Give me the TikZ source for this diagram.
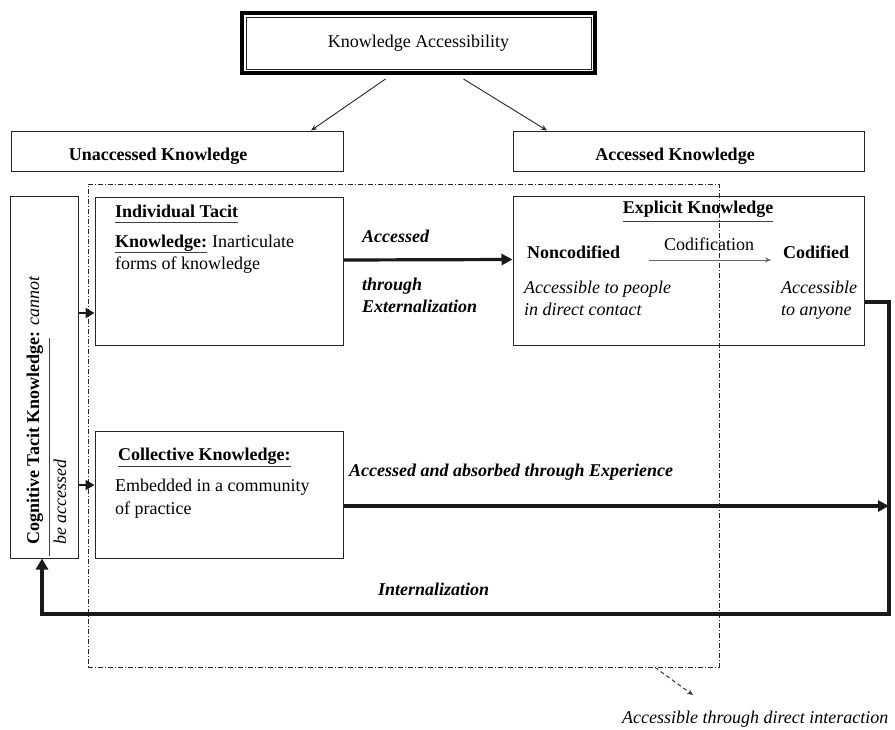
\documentclass[tikz,border=0pt]{standalone}
\usepackage{fontspec}
\setmainfont{Liberation Serif}
\usetikzlibrary{arrows.meta}
\begin{document}
\begin{tikzpicture}[x=1pt,y=-1pt,
  font=\fontsize{18}{22}\selectfont,
  box/.style={draw=black!85, line width=1pt, inner sep=0pt},
  txt/.style={inner sep=0pt, anchor=base west},
  ctr/.style={inner sep=0pt, anchor=base},
  uline/.style={draw=black!75, line width=1pt},
  thinarrow/.style={draw=black!85, line width=0.9pt, -{Stealth[length=6pt,width=5pt]}},
  codarrow/.style={draw=black!60, line width=1pt, -{Stealth[length=6pt,width=5pt]}},
  heavyarrow/.style={draw=black!90, line width=3.2pt, -{Triangle[length=11pt,width=11pt]}},
  heavyline/.style={draw=black!90, line width=4pt, line join=miter},
  smallarrow/.style={draw=black!90, line width=2.4pt, -{Triangle[length=9pt,width=10pt]}},
  frameline/.style={draw=black!85, line width=0.8pt, dash pattern=on 5pt off 2pt on 1pt off 2pt},
  noteline/.style={draw=black!80, line width=1pt, dash pattern=on 4pt off 3pt, -{Stealth[length=6pt,width=5pt]}}]
\useasboundingbox (0,0) rectangle (895,729);

% region of direct interaction
\node[frameline, inner sep=0pt, minimum width=631pt, minimum height=483pt] (frame) at (403.5,425.5) {};

% title box with double frame
\node[draw=black, line width=4pt, inner sep=0pt, minimum width=353pt, minimum height=60pt] (ka) at (418.5,43) {Knowledge Accessibility};
\draw[black!85, line width=1pt] ([shift={(6pt,-6pt)}]ka.north west) rectangle ([shift={(-6pt,6pt)}]ka.south east);

% second level
\node[box, minimum width=332pt, minimum height=40pt] (unacc) at (177,151) {};
\node[ctr] (unaccT) at (158,160) {\textbf{Unaccessed Knowledge}};
\node[box, minimum width=351pt, minimum height=40pt] (acc) at (688.5,151) {};
\node[ctr] (accT) at (675,160) {\textbf{Accessed Knowledge}};

\draw[thinarrow] ([xshift=-33pt,yshift=-4pt]ka.south) -- ([xshift=134pt]unacc.north);
\draw[thinarrow] ([xshift=45pt,yshift=-4pt]ka.south) -- ([xshift=-141.5pt]acc.north);

% cognitive tacit knowledge
\node[box, minimum width=68pt, minimum height=362pt] (cog) at (44.5,377) {};
\node[txt, rotate=90] (cogA) at (39,545) {\textbf{Cognitive Tacit Knowledge:} \textit{cannot}};
\node[txt, rotate=90] (cogB) at (66,545) {\textit{be accessed}};
\draw[uline] (49,338) -- (49,556);

% individual tacit knowledge
\node[box, minimum width=248pt, minimum height=148pt] (indiv) at (219,271) {};
\node[txt] (indA) at (115,217) {\textbf{Individual Tacit}};
\draw[uline] ([yshift=-5pt]indA.base west) -- ([yshift=-5pt]indA.base east);
\node[txt] (indB) at (115,247) {\textbf{Knowledge:}};
\draw[uline] ([yshift=-5pt]indB.base west) -- ([yshift=-5pt]indB.base east);
\node[txt] (indC) at ([xshift=4.5pt]indB.base east) {Inarticulate};
\node[txt] (indD) at (115,269) {forms of knowledge};

% explicit knowledge
\node[box, minimum width=351pt, minimum height=149pt] (expl) at (688.5,270.5) {};
\node[ctr] (explT) at (698,213) {\textbf{Explicit Knowledge}};
\draw[uline] ([yshift=-8pt]explT.base west) -- ([yshift=-8pt]explT.base east);
\node[txt] (nonc) at (527,258) {\textbf{Noncodified}};
\node[txt] (codf) at (783,258) {\textbf{Codified}};
\node[ctr] (codn) at (709,250) {Codification};
\draw[codarrow] ([xshift=29pt,yshift=-2pt]nonc.base east) -- ([xshift=-12pt,yshift=-2pt]codf.base west);
\node[txt] (ncA) at (524,293) {\textit{Accessible to people}};
\node[txt] (ncB) at (524,315) {\textit{in direct contact}};
\node[txt] (cdA) at (781,293) {\textit{Accessible}};
\node[txt] (cdB) at (781,315) {\textit{to anyone}};

% externalization
\draw[heavyarrow] ([yshift=11pt]indiv.east) -- ([yshift=11pt]expl.west);
\node[txt] (exA) at (362,242) {\textbf{\textit{Accessed}}};
\node[txt] (exB) at (362,290) {\textbf{\textit{through}}};
\node[txt] (exC) at (362,312) {\textbf{\textit{Externalization}}};

% collective knowledge
\node[box, minimum width=248pt, minimum height=127pt] (coll) at (219,494.5) {};
\node[txt] (colA) at (118,460) {\textbf{Collective Knowledge:}};
\draw[uline] ([yshift=-6pt]colA.base west) -- ([yshift=-6pt]colA.base east);
\node[txt] (colB) at (115,491) {Embedded in a community};
\node[txt] (colC) at (115,514) {of practice};

% arrows out of the cognitive box
\coordinate (in1) at ([yshift=-42pt]indiv.west);
\coordinate (in2) at ([yshift=9.5pt]coll.west);
\draw[smallarrow] (cog.east |- in1) -- (in1);
\draw[smallarrow] (cog.east |- in2) -- (in2);

% experience and internalization
\coordinate (rail) at (889,0);
\coordinate (ex) at ([yshift=-11.5pt]coll.east);
\draw[heavyarrow] (ex) -- (ex -| rail);
\node[txt] (expT) at (349,476) {\textbf{\textit{Accessed and absorbed through Experience}}};

\coordinate (out) at ([yshift=-31.5pt]expl.east);
\coordinate (bl) at (42,614);
\draw[heavyline, -{Triangle[length=11pt,width=12pt]}] (out) -- (out -| rail) |- (bl) -- (bl |- cog.south);
\node[txt] (intT) at (378,595) {\textbf{\textit{Internalization}}};

% note on direct interaction
\coordinate (noteTip) at (693,695);
\draw[noteline] ([xshift=251.5pt]frame.south) -- (noteTip);
\node[txt] (note) at (622,723) {\textit{Accessible through direct interaction}};
\end{tikzpicture}
\end{document}
